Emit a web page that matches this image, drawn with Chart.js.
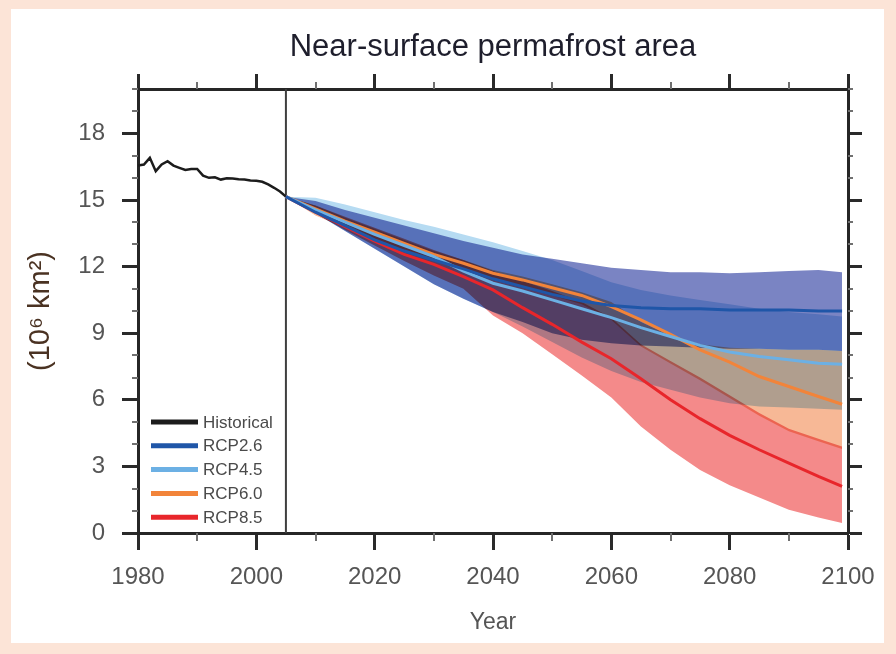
<!DOCTYPE html>
<html>
<head>
<meta charset="utf-8">
<title>Near-surface permafrost area</title>
<script src="https://cdn.jsdelivr.net/npm/chart.js@4.4.1/dist/chart.umd.min.js"></script>
<style>
  html, body { margin: 0; padding: 0; background: #fce4d7; }
  #panel { position: absolute; left: 11px; top: 9px; width: 873px; height: 634px; background: #ffffff; }
  #chart { position: absolute; left: 0; top: 0; }
</style>
</head>
<body>
<div id="panel"></div>
<canvas id="chart" width="896" height="654"></canvas>
<script>
// historical simulation, annual
const histYears = [1980, 1981, 1982, 1983, 1984, 1985, 1986, 1987, 1988, 1989, 1990, 1991, 1992,
                   1993, 1994, 1995, 1996, 1997, 1998, 1999, 2000, 2001, 2002, 2003, 2004, 2005];
const histArea = [16.55, 16.6, 16.9, 16.3, 16.6, 16.75, 16.55, 16.45, 16.35, 16.4, 16.4, 16.1, 16.0,
                  16.02, 15.92, 15.98, 15.97, 15.93, 15.92, 15.88, 15.87, 15.82, 15.7, 15.55, 15.38, 15.15];

// scenario projections (multi-model mean and spread)
const projYears = [2005, 2010, 2015, 2020, 2025, 2030, 2035, 2040, 2045, 2050,
                   2055, 2060, 2065, 2070, 2075, 2080, 2085, 2090, 2095, 2099];

const rcp26Mean = [15.15, 14.45, 13.85, 13.2, 12.7, 12.3, 11.9, 11.45, 11.1, 10.75,
                   10.45, 10.25, 10.15, 10.1, 10.1, 10.05, 10.05, 10.05, 10.0, 10.0];
const rcp26Max  = [15.15, 14.95, 14.55, 14.2, 13.85, 13.5, 13.15, 12.85, 12.55, 12.35,
                   12.15, 11.95, 11.85, 11.75, 11.75, 11.7, 11.75, 11.8, 11.85, 11.75];
const rcp26Min  = [15.15, 14.4, 13.6, 12.8, 12.0, 11.2, 10.55, 9.95, 9.5, 9.0,
                   8.7, 8.55, 8.45, 8.4, 8.35, 8.3, 8.3, 8.25, 8.25, 8.2];

const rcp45Mean = [15.15, 14.55, 14.0, 13.45, 12.95, 12.45, 11.8, 11.25, 10.9, 10.5,
                   10.1, 9.7, 9.25, 8.85, 8.45, 8.15, 7.95, 7.8, 7.65, 7.6];
const rcp45Max  = [15.15, 15.1, 14.8, 14.45, 14.1, 13.8, 13.45, 13.1, 12.7, 12.3,
                   11.8, 11.3, 10.95, 10.7, 10.5, 10.3, 10.1, 9.95, 9.85, 9.75];
const rcp45Min  = [15.15, 14.4, 13.6, 12.8, 12.0, 11.2, 10.55, 9.95, 9.3, 8.6,
                   7.9, 7.3, 6.8, 6.45, 6.1, 5.85, 5.7, 5.65, 5.6, 5.55];

const rcp60Mean = [15.15, 14.6, 14.05, 13.55, 13.05, 12.55, 12.15, 11.7, 11.4, 11.05,
                   10.7, 10.2, 9.6, 8.95, 8.25, 7.7, 7.05, 6.6, 6.15, 5.8];
const rcp60Max  = [15.15, 14.75, 14.2, 13.7, 13.2, 12.7, 12.3, 11.85, 11.55, 11.2,
                   10.85, 10.4, 9.5, 8.9, 8.5, 8.35, 8.3, 8.25, 8.25, 8.2];
const rcp60Min  = [15.15, 14.3, 13.75, 13.25, 12.75, 12.25, 11.85, 11.4, 11.05, 10.7,
                   10.3, 9.6, 8.4, 7.63, 6.88, 6.08, 5.28, 4.58, 4.13, 3.78];

const rcp85Mean = [15.15, 14.45, 13.8, 13.15, 12.55, 12.1, 11.55, 10.95, 10.15, 9.4,
                   8.6, 7.85, 6.95, 6.0, 5.15, 4.4, 3.75, 3.15, 2.55, 2.1];
const rcp85Max  = [15.15, 14.75, 14.25, 13.75, 13.25, 12.75, 12.3, 11.8, 11.35, 10.9,
                   10.4, 9.7, 8.5, 7.75, 7.0, 6.2, 5.4, 4.7, 4.25, 3.9];
const rcp85Min  = [15.15, 14.4, 13.65, 12.95, 12.25, 11.6, 11.0, 9.8, 9.0, 8.05,
                   7.1, 6.1, 4.8, 3.75, 2.84, 2.15, 1.6, 1.05, 0.7, 0.45];

const splitYear = 2005;

const xTicks = [1980, 2000, 2020, 2040, 2060, 2080, 2100];
const xMinorTicks = [1990, 2010, 2030, 2050, 2070, 2090];
const yTicks = [0, 3, 6, 9, 12, 15, 18];
const yMinorTicks = [1, 2, 4, 5, 7, 8, 10, 11, 13, 14, 16, 17, 19, 20];

const legendNames = ['Historical', 'RCP2.6', 'RCP4.5', 'RCP6.0', 'RCP8.5'];

const lineColors = ['#1c1c1c', '#1f56a8', '#6cb0e4', '#f2843a', '#e8262b'];
const bandColors = ['#7a84c3', '#b6dbf2', '#f7b896', '#f48a8a'];

const pts = (xs, ys) => xs.map((x, i) => ({ x: x, y: ys[i] }));

const sans = "'Liberation Sans', Arial, Helvetica, sans-serif";

function band(maxVals, minVals, color, minIndex) {
  return [
    { data: pts(projYears, maxVals), fill: { target: minIndex }, backgroundColor: color,
      borderColor: 'rgba(0,0,0,0)', borderWidth: 0, pointRadius: 0, order: 2 },
    { data: pts(projYears, minVals), fill: false,
      borderColor: 'rgba(0,0,0,0)', borderWidth: 0, pointRadius: 0, order: 2 }
  ];
}

function meanLine(vals, color) {
  return { data: pts(projYears, vals), borderColor: color, borderWidth: 3,
           pointRadius: 0, fill: false, order: 0 };
}

const datasets = [
  ...band(rcp26Max, rcp26Min, bandColors[0], 1),
  ...band(rcp45Max, rcp45Min, bandColors[1], 3),
  ...band(rcp60Max, rcp60Min, bandColors[2], 5),
  ...band(rcp85Max, rcp85Min, bandColors[3], 7),
  meanLine(rcp26Mean, lineColors[1]),
  meanLine(rcp45Mean, lineColors[2]),
  meanLine(rcp60Mean, lineColors[3]),
  meanLine(rcp85Mean, lineColors[4]),
  { data: pts(histYears, histArea), borderColor: lineColors[0], borderWidth: 2.5,
    pointRadius: 0, fill: false, order: 0 },
  { data: [{ x: splitYear, y: 0 }, { x: splitYear, y: 20 }], borderColor: '#3f3f3f',
    borderWidth: 2, pointRadius: 0, fill: false, order: 0 }
];

// spread bands are multiplied together where they overlap, lines drawn normally
const blendBands = {
  id: 'blendBands',
  beforeDatasetsDraw(chart) { chart.ctx.globalCompositeOperation = 'multiply'; },
  beforeDatasetDraw(chart) { chart.ctx.globalCompositeOperation = 'source-over'; },
  afterDatasetDraw(chart) { chart.ctx.globalCompositeOperation = 'multiply'; },
  afterDatasetsDraw(chart) { chart.ctx.globalCompositeOperation = 'source-over'; }
};

// short unlabelled ticks on all four sides
const minorTicks = {
  id: 'minorTicks',
  afterDraw(chart) {
    const { ctx, chartArea: a, scales: { x, y } } = chart;
    ctx.save();
    ctx.strokeStyle = '#707070';
    ctx.lineWidth = 2;
    ctx.beginPath();
    xMinorTicks.forEach(v => {
      const px = Math.round(x.getPixelForValue(v));
      ctx.moveTo(px, a.bottom); ctx.lineTo(px, a.bottom + 8);
      ctx.moveTo(px, a.top); ctx.lineTo(px, a.top - 7);
    });
    yMinorTicks.forEach(v => {
      const py = Math.round(y.getPixelForValue(v));
      ctx.moveTo(a.left, py); ctx.lineTo(a.left - 6, py);
      ctx.moveTo(a.right, py); ctx.lineTo(a.right + 5, py);
    });
    ctx.stroke();
    ctx.restore();
  }
};

// legend box in the lower left of the plot
const insideLegend = {
  id: 'insideLegend',
  afterDraw(chart) {
    const { ctx, chartArea: a } = chart;
    const x0 = a.left + 13, x1 = a.left + 60;
    ctx.save();
    ctx.font = '17px ' + sans;
    ctx.textBaseline = 'middle';
    ctx.textAlign = 'left';
    legendNames.forEach((name, i) => {
      const yy = a.bottom - 111 + i * 23.8;
      ctx.strokeStyle = lineColors[i];
      ctx.lineWidth = 5;
      ctx.beginPath();
      ctx.moveTo(x0, yy); ctx.lineTo(x1, yy);
      ctx.stroke();
      ctx.fillStyle = '#4a4a4a';
      ctx.fillText(name, x1 + 5, yy + 1);
    });
    ctx.restore();
  }
};

const axisBorder = { display: true, color: '#262626', width: 3 };

new Chart(document.getElementById('chart'), {
  type: 'line',
  data: { datasets: datasets },
  options: {
    responsive: false,
    animation: false,
    events: [],
    layout: { padding: 0 },
    elements: { line: { tension: 0 } },
    plugins: {
      legend: { display: false },
      title: { display: false },
      tooltip: { enabled: false },
      filler: { drawTime: 'beforeDatasetDraw' }
    },
    scales: {
      x: {
        type: 'linear', position: 'bottom', min: 1980, max: 2100,
        afterBuildTicks: s => { s.ticks = xTicks.map(v => ({ value: v })); },
        afterFit: s => { s.height = 121; },
        grid: { drawOnChartArea: false, drawTicks: true, tickLength: 17, tickWidth: 3, tickColor: '#2a2a2a' },
        border: axisBorder,
        ticks: { padding: 13, color: '#555555', font: { family: sans, size: 24 },
                 maxRotation: 0, autoSkip: false, callback: v => String(v) },
        title: { display: true, text: 'Year', color: '#555555',
                 font: { family: sans, size: 23 }, padding: { top: 0, bottom: 18 } }
      },
      x2: {
        type: 'linear', position: 'top', min: 1980, max: 2100,
        afterBuildTicks: s => { s.ticks = xTicks.map(v => ({ value: v })); },
        afterFit: s => { s.height = 89; },
        grid: { drawOnChartArea: false, drawTicks: true, tickLength: 15, tickWidth: 3, tickColor: '#2a2a2a' },
        border: axisBorder,
        ticks: { display: false },
        title: { display: true, text: 'Near-surface permafrost area', color: '#1e1e2c',
                 font: { family: sans, size: 31 }, padding: { top: 29, bottom: 0 } }
      },
      y: {
        type: 'linear', position: 'left', min: 0, max: 20,
        afterBuildTicks: s => { s.ticks = yTicks.map(v => ({ value: v })); },
        afterFit: s => { s.width = 138; },
        grid: { drawOnChartArea: false, drawTicks: true, tickLength: 16, tickWidth: 3, tickColor: '#2a2a2a' },
        border: axisBorder,
        ticks: { padding: 17, color: '#555555', font: { family: sans, size: 24 } },
        title: { display: true, text: '(10\u2076 km\u00b2)', color: '#4a3222',
                 font: { family: sans, size: 29 }, padding: { top: 24, bottom: 0 } }
      },
      y2: {
        type: 'linear', position: 'right', min: 0, max: 20,
        afterBuildTicks: s => { s.ticks = yTicks.map(v => ({ value: v })); },
        afterFit: s => { s.width = 48; },
        grid: { drawOnChartArea: false, drawTicks: true, tickLength: 14, tickWidth: 3, tickColor: '#2a2a2a' },
        border: axisBorder,
        ticks: { display: false }
      }
    }
  },
  plugins: [blendBands, minorTicks, insideLegend]
});
</script>
</body>
</html>
